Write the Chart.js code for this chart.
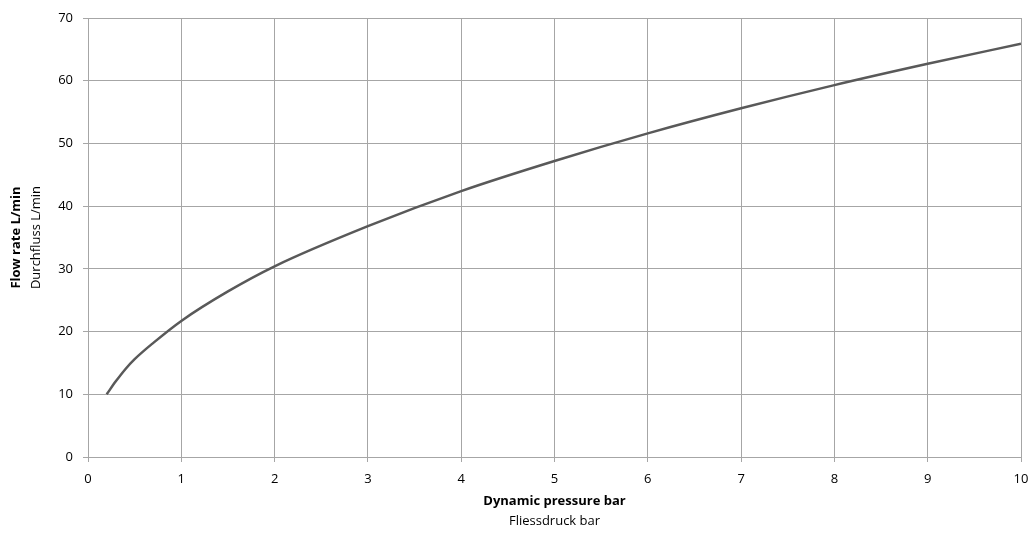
<!DOCTYPE html>
<html>
<head>
<meta charset="utf-8">
<script src="https://cdn.jsdelivr.net/npm/chart.js@4.4.0/dist/chart.umd.min.js"></script>
<style>
  html, body { margin: 0; padding: 0; background: #fff; }
  #wrap { width: 1032px; height: 539px; }
</style>
</head>
<body>
<div id="wrap"><canvas id="chart" width="1032" height="539"></canvas></div>
<script>
// Pressure (bar) vs flow (L/min)
const pressure = [0.2, 0.3, 0.4, 0.5, 0.7, 1, 1.5, 2, 3, 4, 5, 6, 7, 8, 9, 10];
const flow = [10, 12.1, 14.0, 15.6, 18.2, 21.7, 26.4, 30.4, 36.8, 42.4, 47.2, 51.6, 55.6, 59.3, 62.7, 65.9];

const xTitle = ['Dynamic pressure bar', 'Fliessdruck bar'];
const yTitle = ['Flow rate L/min', 'Durchfluss L/min'];

const FONT = "'Open Sans', sans-serif";
const GRID = '#a6a6a6';

// two-line axis titles, first line bold
const axisTitles = {
    id: 'axisTitles',
    afterDraw(chart) {
        const c = chart.ctx;
        const a = chart.chartArea;
        c.save();
        c.fillStyle = '#000';
        c.textAlign = 'center';
        c.textBaseline = 'middle';
        const cx = (a.left + a.right) / 2;
        c.font = 'bold 13px ' + FONT;
        c.fillText(xTitle[0], cx, a.bottom + 44);
        c.font = '13px ' + FONT;
        c.fillText(xTitle[1], cx, a.bottom + 64);

        const cy = (a.top + a.bottom) / 2;
        c.translate(16, cy);
        c.rotate(-Math.PI / 2);
        c.font = 'bold 13px ' + FONT;
        c.fillText(yTitle[0], 0, 0);
        c.font = '13px ' + FONT;
        c.fillText(yTitle[1], 0, 20);
        c.restore();
    }
};

new Chart(document.getElementById('chart'), {
    type: 'scatter',
    data: {
        datasets: [{
            data: pressure.map((p, i) => ({ x: p, y: flow[i] })),
            showLine: true,
            borderColor: '#595959',
            borderWidth: 2.5,
            pointRadius: 0,
            cubicInterpolationMode: 'monotone',
            fill: false
        }]
    },
    options: {
        responsive: false,
        animation: false,
        layout: { padding: { top: 18, right: 11, left: 0, bottom: 0 } },
        plugins: { legend: { display: false }, tooltip: { enabled: false } },
        scales: {
            x: {
                type: 'linear',
                min: 0, max: 10,
                ticks: { stepSize: 1, color: '#000', font: { family: FONT, size: 13 }, padding: 9 },
                grid: { color: GRID, lineWidth: 1, tickLength: 5 },
                border: { color: GRID },
                afterFit(s) { s.height = 82; s.paddingRight = 11; s.paddingLeft = 0; }
            },
            y: {
                min: 0, max: 70,
                ticks: { stepSize: 10, color: '#000', font: { family: FONT, size: 13 }, padding: 10 },
                grid: { color: GRID, lineWidth: 1, tickLength: 5 },
                border: { color: GRID },
                afterFit(s) { s.width = 88; }
            }
        }
    },
    plugins: [axisTitles]
});
</script>
</body>
</html>
